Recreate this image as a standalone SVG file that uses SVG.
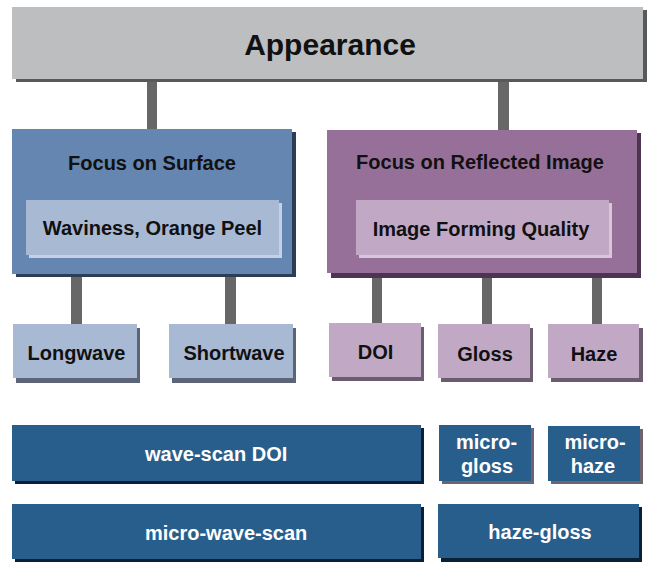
<svg xmlns="http://www.w3.org/2000/svg" width="647" height="563" viewBox="0 0 647 563">
<style>
text{font-family:"Liberation Sans",Arial,sans-serif;font-weight:bold;font-size:20px;text-anchor:middle;fill:#111}
.w{fill:#fff}
.l{text-anchor:start}
.conn{fill:#676767}
</style>
<rect width="647" height="563" fill="#fff"/>
<g id="connectors">
<rect class="conn" x="147" y="79" width="10" height="52"/>
<rect class="conn" x="498" y="79" width="11" height="53"/>
<rect class="conn" x="71" y="274" width="11" height="51"/>
<rect class="conn" x="225" y="274" width="11" height="51"/>
<rect class="conn" x="372" y="273" width="10" height="52"/>
<rect class="conn" x="482" y="273" width="10" height="52"/>
<rect class="conn" x="592" y="273" width="10" height="52"/>
</g>
<g id="appearance">
<rect x="16" y="10" width="631" height="72" fill="#58595b"/>
<rect x="12" y="7" width="631" height="72" fill="#bdbec0"/>
<text x="330" y="55" style="font-size:30px">Appearance</text>
</g>
<g id="surface">
<rect x="16" y="132" width="280" height="145" fill="#2d3d56"/>
<rect x="12" y="129" width="280" height="145" fill="#6586b1"/>
<text x="152" y="170">Focus on Surface</text>
</g>
<g id="waviness">
<rect x="29" y="203" width="253" height="55" fill="#c3d0e5"/>
<rect x="26" y="200" width="253" height="55" fill="#a8b9d4"/>
<text x="152.5" y="235">Waviness, Orange Peel</text>
</g>
<g id="reflected">
<rect x="331" y="133" width="310" height="145" fill="#4b3550"/>
<rect x="327" y="130" width="310" height="143" fill="#977099"/>
<text x="480" y="169">Focus on Reflected Image</text>
</g>
<g id="ifq">
<rect x="359" y="203" width="253" height="55" fill="#d8c6da"/>
<rect x="356" y="200" width="253" height="55" fill="#c1a9c6"/>
<text x="481" y="236">Image Forming Quality</text>
</g>
<g id="longwave">
<rect x="16" y="328" width="124" height="55" fill="#5b6577"/>
<rect x="13" y="324" width="124" height="54" fill="#a8b9d4"/>
<text x="76.5" y="360">Longwave</text>
</g>
<g id="shortwave">
<rect x="172" y="328" width="124" height="55" fill="#5b6577"/>
<rect x="169" y="324" width="124" height="54" fill="#a8b9d4"/>
<text x="234" y="360">Shortwave</text>
</g>
<g id="doi">
<rect x="332" y="327" width="92" height="54" fill="#6b5d6f"/>
<rect x="329" y="323" width="92" height="54" fill="#c1a9c6"/>
<text x="375.5" y="359">DOI</text>
</g>
<g id="gloss">
<rect x="441" y="328" width="92" height="54" fill="#6b5d6f"/>
<rect x="438" y="324" width="92" height="54" fill="#c1a9c6"/>
<text x="485" y="361">Gloss</text>
</g>
<g id="haze">
<rect x="551" y="328" width="92" height="54" fill="#6b5d6f"/>
<rect x="548" y="324" width="91" height="54" fill="#c1a9c6"/>
<text x="594" y="361">Haze</text>
</g>
<g id="wavescan">
<rect x="15" y="428" width="409" height="56" fill="#0b1f36"/>
<rect x="12" y="425" width="409" height="56" fill="#285e8b"/>
<text class="w l" x="145" y="461">wave-scan DOI</text>
</g>
<g id="microwavescan">
<rect x="15" y="507" width="409" height="55" fill="#0b1f36"/>
<rect x="12" y="504" width="409" height="55" fill="#285e8b"/>
<text class="w l" x="145" y="540">micro-wave-scan</text>
</g>
<g id="microgloss">
<rect x="442" y="428" width="92" height="56" fill="#6f6370"/>
<rect x="439" y="425" width="92" height="56" fill="#285e8b"/>
<text class="w" x="486.5" y="449">micro-</text>
<text class="w" x="487" y="473">gloss</text>
</g>
<g id="microhaze">
<rect x="551" y="429" width="92" height="55" fill="#6f6370"/>
<rect x="548" y="426" width="92" height="55" fill="#285e8b"/>
<text class="w" x="595" y="449">micro-</text>
<text class="w" x="593" y="473">haze</text>
</g>
<g id="hazegloss">
<rect x="441" y="507" width="201" height="55" fill="#0b1f36"/>
<rect x="438" y="504" width="201" height="54" fill="#285e8b"/>
<text class="w" x="540" y="539">haze-gloss</text>
</g>
</svg>
